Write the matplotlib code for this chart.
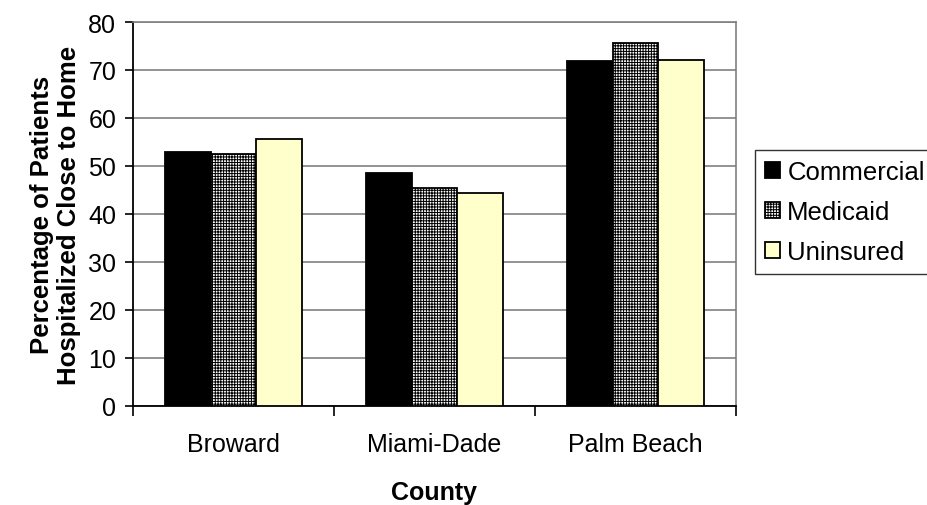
import matplotlib.pyplot as plt
import numpy as np

counties = ['Broward', 'Miami-Dade', 'Palm Beach']
series = ['Commercial', 'Medicaid', 'Uninsured']
commercial = [53.0, 48.5, 71.9]
medicaid = [52.6, 45.4, 75.6]
uninsured = [55.6, 44.3, 72.1]
yticks = [0, 10, 20, 30, 40, 50, 60, 70, 80]

plt.rcParams['font.family'] = ['Liberation Sans', 'DejaVu Sans']
plt.rcParams['font.size'] = 18
plt.rcParams['hatch.linewidth'] = 0.7

fig = plt.figure(figsize=(9.28, 5.06), dpi=100)
ax = fig.add_axes([133 / 928, 99 / 506, 603 / 928, 384 / 506])

x = np.arange(len(counties))
w = 0.226
styles = [
    dict(facecolor='black', hatch=None),
    dict(facecolor='white', hatch='++++++'),
    dict(facecolor='#FFFFCC', hatch=None),
]
for i, (vals, name, st) in enumerate(zip([commercial, medicaid, uninsured], series, styles)):
    ax.bar(x + (i - 1) * w, vals, w, label=name, edgecolor='black',
           linewidth=1.3, zorder=3, **st)

ax.set_xlim(-0.5, 2.5)
ax.set_ylim(0, 80)
ax.set_yticks(yticks)
ax.yaxis.grid(True, color='#808080', linewidth=1.2, zorder=0)

# category names sit between the boundary ticks
ax.set_xticks([-0.5, 0.5, 1.5, 2.5])
ax.set_xticklabels([])
ax.set_xticks(x, counties, minor=True)
ax.tick_params(axis='x', which='minor', length=0, pad=19)
ax.tick_params(axis='x', which='major', length=7, width=1.2, direction='out')
ax.tick_params(axis='y', length=6, width=1.2, direction='out', pad=6)

for side in ['left', 'bottom']:
    ax.spines[side].set_color('black')
    ax.spines[side].set_linewidth(1.3)
for side in ['top', 'right']:
    ax.spines[side].set_color('#808080')
    ax.spines[side].set_linewidth(1.2)

ax.set_xlabel('County', fontweight='bold', labelpad=17)
ax.set_ylabel('Percentage of Patients\nHospitalized Close to Home',
              fontweight='bold', labelpad=5, fontsize=18.5)

leg = ax.legend(loc='center left', bbox_to_anchor=(755 / 928, (506 - 213) / 506),
                bbox_transform=fig.transFigure, frameon=True, fancybox=False,
                edgecolor='black', borderpad=0.4, labelspacing=0.62,
                handlelength=0.56, handleheight=0.56, handletextpad=0.3,
                borderaxespad=0, fontsize=18.5)
leg.get_frame().set_linewidth(1.0)

fig.savefig('out.png', dpi=100)
